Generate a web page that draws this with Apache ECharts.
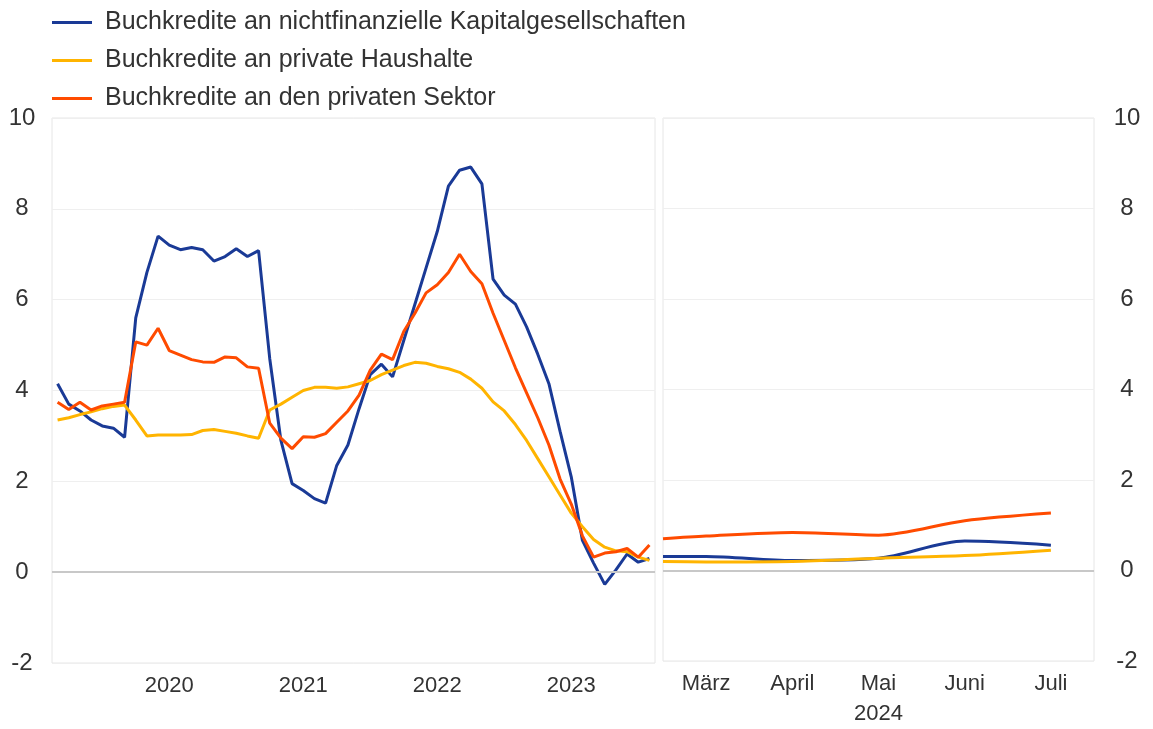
<!DOCTYPE html>
<html>
<head>
<meta charset="utf-8">
<script src="https://cdn.jsdelivr.net/npm/echarts@6/dist/echarts.min.js"></script>
<style>
  html, body { margin: 0; padding: 0; background: #fff; }
  #chart { width: 1153px; height: 729px; }
</style>
</head>
<body>
<div id="chart"></div>
<script>
// Monatsdaten (Sep 2019 - Feb 2024)
var months = [
	'2019-09', '2019-10', '2019-11', '2019-12',
	'2020-01', '2020-02', '2020-03', '2020-04', '2020-05', '2020-06', '2020-07', '2020-08', '2020-09', '2020-10', '2020-11', '2020-12',
	'2021-01', '2021-02', '2021-03', '2021-04', '2021-05', '2021-06', '2021-07', '2021-08', '2021-09', '2021-10', '2021-11', '2021-12',
	'2022-01', '2022-02', '2022-03', '2022-04', '2022-05', '2022-06', '2022-07', '2022-08', '2022-09', '2022-10', '2022-11', '2022-12',
	'2023-01', '2023-02', '2023-03', '2023-04', '2023-05', '2023-06', '2023-07', '2023-08', '2023-09', '2023-10', '2023-11', '2023-12',
	'2024-01', '2024-02'
];
var nfcLoans = [
	4.15, 3.7, 3.55, 3.35, 3.22, 3.17, 2.97, 5.6, 6.6, 7.4,
	7.2, 7.1, 7.15, 7.1, 6.85, 6.95, 7.12, 6.95, 7.08, 4.7,
	2.9, 1.95, 1.8, 1.62, 1.52, 2.35, 2.8, 3.6, 4.35, 4.58,
	4.3, 5.1, 5.9, 6.7, 7.5, 8.5, 8.85, 8.92, 8.55, 6.45,
	6.1, 5.9, 5.4, 4.8, 4.15, 3.1, 2.1, 0.7, 0.2, -0.27,
	0.05, 0.4, 0.22, 0.3
];
var hhLoans = [
	3.35, 3.4, 3.47, 3.53, 3.6, 3.65, 3.68, 3.35, 3.0, 3.02,
	3.02, 3.02, 3.03, 3.12, 3.14, 3.1, 3.06, 3.0, 2.95, 3.57,
	3.7, 3.85, 4.0, 4.07, 4.07, 4.05, 4.08, 4.15, 4.22, 4.35,
	4.45, 4.55, 4.62, 4.6, 4.53, 4.48, 4.4, 4.25, 4.05, 3.75,
	3.55, 3.25, 2.9, 2.5, 2.1, 1.7, 1.3, 1.0, 0.72, 0.55,
	0.47, 0.45, 0.33, 0.26
];
var privLoans = [
	3.74, 3.58, 3.74, 3.57, 3.66, 3.7, 3.74, 5.07, 5.0, 5.37,
	4.88, 4.78, 4.68, 4.63, 4.62, 4.74, 4.72, 4.52, 4.49, 3.28,
	2.95, 2.72, 2.98, 2.97, 3.05, 3.3, 3.55, 3.9, 4.45, 4.8,
	4.68, 5.3, 5.7, 6.15, 6.33, 6.6, 7.0, 6.62, 6.35, 5.7,
	5.1, 4.5, 3.95, 3.4, 2.8, 2.05, 1.5, 0.8, 0.33, 0.42,
	0.45, 0.52, 0.33, 0.6
];

// rechtes Feld: Monate 2024 (halbe Monatsschritte, Start am linken Rand)
var recentSlots = ['', 'März', '', 'April', '', 'Mai', '', 'Juni', '', 'Juli', ''];
var nfcRecent  = [0.31, 0.31, null, 0.22, null, 0.27, null, 0.65, null, 0.56, null];
var hhRecent   = [0.20, 0.19, null, 0.20, null, 0.27, null, 0.33, null, 0.45, null];
var privRecent = [0.70, 0.76, null, 0.84, null, 0.78, null, 1.10, null, 1.27, null];

var names = [
	'Buchkredite an nichtfinanzielle Kapitalgesellschaften',
	'Buchkredite an private Haushalte',
	'Buchkredite an den privaten Sektor'
];
var colors = ['#1a3a96', '#ffb400', '#ff4b00'];

var fontFam = '"Liberation Sans", Arial, sans-serif';

function makeLine(name, color, data, idx, smooth) {
	return {
		name: name,
		type: 'line',
		xAxisIndex: idx,
		yAxisIndex: idx,
		data: data,
		showSymbol: false,
		connectNulls: true,
		smooth: smooth,
		lineStyle: { color: color, width: 3 },
		itemStyle: { color: color },
		z: 3
	};
}

// graue Nulllinie in jedem Feld
function zeroLine(idx) {
	return {
		type: 'line',
		xAxisIndex: idx,
		yAxisIndex: idx,
		data: [],
		silent: true,
		z: 1,
		markLine: {
			silent: true,
			symbol: 'none',
			label: { show: false },
			lineStyle: { color: '#c8c8c8', width: 2, type: 'solid' },
			data: [{ yAxis: 0 }]
		}
	};
}

var myChart = echarts.init(document.getElementById('chart'));

var yAxisBase = {
	type: 'value',
	min: -2,
	max: 10,
	interval: 2,
	axisLine: { show: false },
	axisTick: { show: false },
	splitLine: { lineStyle: { color: '#efefef', width: 1 } }
};

var option = {
	animation: false,
	textStyle: { fontFamily: fontFam },
	legend: {
		data: names,
		orient: 'vertical',
		left: 47,
		top: 5,
		icon: 'rect',
		itemWidth: 40,
		itemHeight: 3,
		itemGap: 13,
		textStyle: { fontSize: 25, lineHeight: 25, color: '#333', fontFamily: fontFam, padding: [0, 0, 0, 8] }
	},
	grid: [
		{ left: 52, top: 118, width: 603, height: 545, show: true, borderColor: '#e6e6e6', borderWidth: 1 },
		{ left: 663, top: 118, width: 431, height: 545, show: true, borderColor: '#e6e6e6', borderWidth: 1 }
	],
	xAxis: [
		{
			type: 'category',
			gridIndex: 0,
			data: months,
			boundaryGap: true,
			axisLine: { show: false },
			axisTick: { show: false },
			axisLabel: {
				interval: function (i, v) { return v.slice(5) === '07'; },
				formatter: function (v) { return v.slice(0, 4); },
				fontSize: 22,
				color: '#333',
				margin: 12
			}
		},
		{
			type: 'category',
			gridIndex: 1,
			data: recentSlots,
			boundaryGap: false,
			axisLine: { show: false },
			axisTick: { show: false },
			axisLabel: {
				interval: 0,
				formatter: function (v) { return v === 'Mai' ? 'Mai\n2024' : v; },
				fontSize: 22,
				lineHeight: 30,
				color: '#333',
				margin: 8
			}
		}
	],
	yAxis: [
		Object.assign({}, yAxisBase, {
			gridIndex: 0,
			position: 'left',
			axisLabel: { fontSize: 24, color: '#333', align: 'center', margin: 30 }
		}),
		Object.assign({}, yAxisBase, {
			gridIndex: 1,
			position: 'right',
			axisLabel: { fontSize: 24, color: '#333', align: 'center', margin: 33 }
		})
	],
	series: [
		zeroLine(0),
		zeroLine(1),
		makeLine(names[0], colors[0], nfcLoans, 0, false),
		makeLine(names[1], colors[1], hhLoans, 0, false),
		makeLine(names[2], colors[2], privLoans, 0, false),
		makeLine(names[0], colors[0], nfcRecent, 1, 0.3),
		makeLine(names[1], colors[1], hhRecent, 1, 0.3),
		makeLine(names[2], colors[2], privRecent, 1, 0.3)
	]
};

myChart.setOption(option);
</script>
</body>
</html>
